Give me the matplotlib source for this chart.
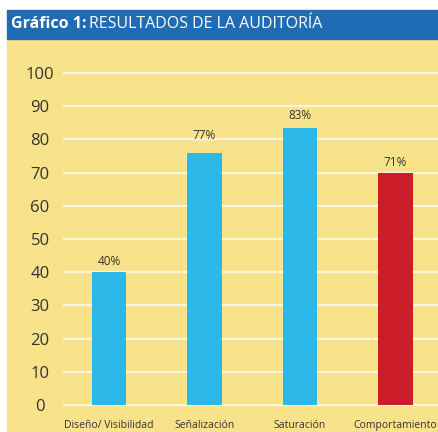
import matplotlib
matplotlib.use('Agg')
import matplotlib.pyplot as plt
from matplotlib.patches import Rectangle

# Data (bar heights as drawn, labels as printed)
categories = ['Diseño/ Visibilidad', 'Señalización', 'Saturación', 'Comportamiento']
values = [40, 76, 83.3, 70]
value_labels = ['40%', '77%', '83%', '71%']
bar_colors = ['#2cb9ea', '#2cb9ea', '#2cb9ea', '#cc1d2b']
yticks = [0, 10, 20, 30, 40, 50, 60, 70, 80, 90, 100]

# label gap above each bar (px), as in the original layout
label_gap = [4, 11, 6.5, 3.5]

plt.rcParams['font.family'] = ['Open Sans', 'DejaVu Sans']

W, H = 439, 432
fig = plt.figure(figsize=(W / 100, H / 100), dpi=100)
fig.patch.set_facecolor('white')

# background panels (pixel coords -> figure fractions), behind the axes
fig.patches.append(Rectangle((7 / W, 0), 1 - 7 / W, 1 - 39 / H,
                             transform=fig.transFigure, color='#f8e38a', zorder=-2))
fig.patches.append(Rectangle((7 / W, 1 - 39 / H), 1 - 7 / W, 29 / H,
                             transform=fig.transFigure, color='#1f6cb4', zorder=-2))

# title: bold prefix + regular rest
t1 = fig.text(11 / W, 1 - 24.5 / H, 'Gráfico 1:', color='white', fontsize=11.5,
              fontweight='bold', va='center', ha='left')
fig.canvas.draw()
bb = t1.get_window_extent()
fig.text(bb.x1 / W + 3 / W, 1 - 24.5 / H, 'RESULTADOS DE LA AUDITORÍA', color='white',
         fontsize=11.5, va='center', ha='left')

# axes: y=0 at 405px, y=100 at 73px; ylim padded a bit so gridlines aren't clipped
ppu = (405 - 73) / 100
y_lo, y_hi = -1.5, 102
ax_bottom = H - (405 + (0 - y_lo) * ppu)
ax_top = H - (73 - (y_hi - 100) * ppu)
ax = fig.add_axes([63 / W, ax_bottom / H, 1 - 63 / W, (ax_top - ax_bottom) / H])
ax.set_facecolor('none')

x = list(range(len(categories)))
ax.bar(x, values, width=0.36, color=bar_colors, zorder=3)
for xi, v, lab, gap in zip(x, values, value_labels, label_gap):
    ax.annotate(lab, (xi, v), xytext=(0, gap * 0.72), textcoords='offset points',
                ha='center', va='bottom', fontsize=8.5, color='#333333')

ax.set_ylim(y_lo, y_hi)
ax.set_xlim(-0.48, 3.455)
ax.set_yticks(yticks)
ax.set_xticks(x)
ax.set_xticklabels(categories, fontsize=7.5, color='#333333')
ax.tick_params(axis='x', length=0, pad=7)
ax.tick_params(axis='y', length=0, pad=16.5, labelsize=12, labelcolor='#333333')
for lab in ax.get_yticklabels():
    lab.set_ha('center')

ax.grid(axis='y', color='#fdf6dc', linewidth=1.6)
ax.set_axisbelow(True)
for s in ax.spines.values():
    s.set_visible(False)

fig.savefig('out.png', dpi=100, facecolor=fig.get_facecolor())
